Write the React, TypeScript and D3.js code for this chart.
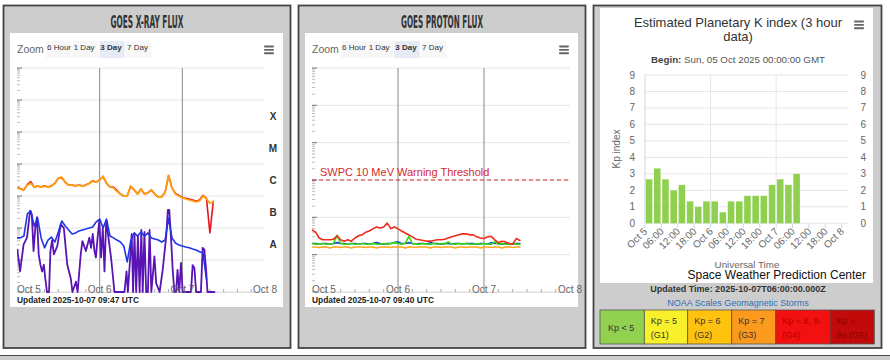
import * as d3 from 'd3';
import type { ReactNode } from 'react';

const SANS = '"Liberation Sans", Arial, Helvetica, sans-serif';
const NARROW = '"Liberation Sans Narrow", "DejaVu Sans Condensed", "Liberation Sans", sans-serif';

// GOES X-ray flux (W/m2), hourly from Oct 5 00:00 UTC
const xrayLongPrimary = [
  1.8e-6, 1.65e-6, 1.55e-6, 2.2e-6, 2.5e-6, 1.9e-6, 2.05e-6, 1.9e-6, 2.05e-6, 1.9e-6,
  2.05e-6, 2.5e-6, 3.65e-6, 3.9e-6, 2.7e-6, 2.2e-6, 2.2e-6, 2.05e-6, 2.2e-6, 2.05e-6,
  2.2e-6, 2.5e-6, 2.9e-6, 2.7e-6, 3.2e-6, 4.2e-6, 2.5e-6, 1.9e-6, 1.8e-6, 1.4e-6,
  1.15e-6, 1.0e-6, 1.0e-6, 2.05e-6, 1.55e-6, 1.15e-6, 1.65e-6, 1.15e-6, 1.25e-6, 1.55e-6,
  1.15e-6, 9.3e-7, 9.3e-7, 1.3e-6, 4.5e-6, 1.8e-6, 1.15e-6, 1.0e-6, 8.7e-7, 8.1e-7,
  7.5e-7, 7.0e-7, 6.5e-7, 7.0e-7, 1.0e-6, 8.1e-7, 6.0e-7, 6.5e-7,
];
const xrayLongSecondary = [
  1.8e-6, 1.7e-6, 1.55e-6, 2.3e-6, 2.8e-6, 1.9e-6, 2.05e-6, 1.9e-6, 2.1e-6, 1.9e-6,
  2.1e-6, 2.5e-6, 3.6e-6, 3.7e-6, 2.7e-6, 2.2e-6, 2.2e-6, 2.1e-6, 2.2e-6, 2.05e-6,
  2.2e-6, 2.5e-6, 3.0e-6, 2.7e-6, 3.2e-6, 4.0e-6, 2.5e-6, 1.9e-6, 1.9e-6, 1.5e-6,
  1.15e-6, 1.0e-6, 1.0e-6, 2.0e-6, 1.55e-6, 1.15e-6, 1.65e-6, 1.15e-6, 1.25e-6, 1.55e-6,
  1.15e-6, 9.3e-7, 9.5e-7, 1.3e-6, 4.3e-6, 1.8e-6, 1.2e-6, 1.05e-6, 9.0e-7, 8.5e-7,
  8.0e-7, 7.5e-7, 7.0e-7, 7.5e-7, 1.05e-6, 8.5e-7, 7.0e-8, 6.8e-7,
];
const xrayShortPrimary = [
  4.9e-8, 4.9e-8, 5.6e-8, 2.75e-7, 3.4e-7, 1.15e-7, 2.05e-7, 4.9e-8, 2.4e-8, 4.2e-8,
  5.2e-8, 3.65e-8, 7.5e-8, 1.65e-7, 1.15e-7, 8.7e-8, 6.5e-8, 7.0e-8, 8.1e-8, 8.7e-8,
  9.3e-8, 1.0e-7, 1.07e-7, 1.55e-7, 1.9e-7, 1.0e-7, 1.9e-7, 5.6e-8, 4.9e-8, 4.2e-8,
  3.65e-8, 2.75e-8, 8.7e-9, 3.9e-8, 7.0e-8, 5.6e-8, 7.5e-8, 5.6e-8, 7.0e-8, 4.9e-8,
  4.55e-8, 4.2e-8, 3.65e-8, 4.2e-8, 2.05e-7, 4.9e-8, 3.4e-8, 2.95e-8, 2.75e-8, 2.55e-8,
  2.4e-8, 2.2e-8, 2.05e-8, 1.8e-8, 1.65e-8, 2.5e-9,
];
// the secondary short channel is very spiky, so it is read at its turning points
const xrayShortSecondaryHours = [
  0.1, 0.9, 1.9, 2.9, 3.8, 4.3, 4.8, 5.3, 5.8, 6.3, 6.8, 7.3, 7.8, 8.2, 8.7, 9.3, 9.7, 10.2, 10.7, 11.7,
  12.7, 13.6, 14.6, 15.6, 16.1, 17.1, 17.6, 18.5, 19.0, 20.0, 21.0, 21.5, 22.0, 22.5, 22.9, 23.4, 23.9, 24.4, 24.9, 25.4,
  25.9, 26.4, 27.3, 28.3, 31.2, 31.8, 32.2, 33.3, 33.7, 34.1, 34.6, 35.1, 35.6, 36.1, 36.5, 37.0, 37.5, 38.0, 38.5, 39.0,
  39.9, 40.4, 41.4, 42.3, 43.3, 43.8, 44.2, 44.7, 45.2, 45.7, 46.2, 46.6, 47.1, 47.6, 48.1, 50.5, 51.0, 51.5, 52.0, 53.4,
  53.9, 54.4, 54.9, 55.3, 57.3,
];
const xrayShortSecondary = [
  2.1e-8, 4.4e-9, 3.0e-8, 5.0e-8, 3.5e-7, 2.6e-7, 1.9e-8, 1.0e-7, 2.2e-7, 1.5e-8, 7.1e-9, 4.4e-9, 7.1e-9, 2.7e-9, 1e-9, 1e-9, 1.9e-8, 4.2e-8, 1.5e-8, 2.7e-8,
  1.3e-7, 1.0e-7, 7.1e-9, 2.7e-9, 1e-9, 2.1e-9, 1e-9, 1.5e-8, 3.9e-8, 1.9e-8, 5.0e-8, 2.4e-8, 6.5e-8, 1.9e-8, 1.2e-8, 5.0e-8, 1.7e-7, 1.2e-8, 1.0e-7, 4.4e-9,
  1.7e-7, 6.5e-8, 1.2e-8, 1e-9, 1e-9, 4.4e-9, 1e-9, 6.5e-8, 1e-9, 6.9e-8, 1e-9, 5.6e-8, 1e-9, 8.7e-8, 1e-9, 7.5e-8, 1e-9, 1e-9, 8.7e-8, 1e-9,
  1.3e-8, 1.9e-9, 1e-9, 4.9e-9, 5.3e-8, 3.7e-7, 3.7e-7, 5.3e-8, 4.9e-9, 1e-9, 1e-9, 4.9e-9, 1e-9, 8.1e-9, 1e-9, 1e-9, 6.9e-9, 5.6e-9, 1e-9, 1e-9,
  2.4e-8, 2.1e-8, 4.9e-9, 1e-9, 1e-9,
];
const flareClasses = ['A', 'B', 'C', 'M', 'X'];
const flareClassExponents = [-8, -7, -6, -5, -4];

// GOES proton flux (pfu), hourly from Oct 5 00:00 UTC
const proton10MeV = [
  0.46, 0.40, 0.28, 0.25, 0.25, 0.25, 0.26, 0.32, 0.25, 0.23,
  0.25, 0.23, 0.28, 0.32, 0.34, 0.40, 0.43, 0.49, 0.55, 0.52,
  0.55, 0.70, 0.50, 0.55, 0.49, 0.43, 0.38, 0.34, 0.30, 0.26,
  0.25, 0.24, 0.23, 0.23, 0.24, 0.25, 0.25, 0.26, 0.28, 0.30,
  0.32, 0.34, 0.36, 0.36, 0.34, 0.34, 0.30, 0.28, 0.27, 0.30,
  0.31, 0.25, 0.21, 0.23, 0.22, 0.20, 0.19, 0.27, 0.24,
];
const proton50MeV = [
  0.20, 0.20, 0.19, 0.20, 0.20, 0.19, 0.20, 0.21, 0.20, 0.20,
  0.19, 0.20, 0.20, 0.19, 0.20, 0.20, 0.19, 0.20, 0.21, 0.20,
  0.19, 0.20, 0.20, 0.21, 0.22, 0.20, 0.20, 0.21, 0.20, 0.19,
  0.20, 0.20, 0.19, 0.21, 0.20, 0.20, 0.19, 0.20, 0.20, 0.19,
  0.20, 0.20, 0.19, 0.20, 0.20, 0.20, 0.19, 0.20, 0.20, 0.19,
  0.21, 0.20, 0.20, 0.19, 0.20, 0.20, 0.19, 0.20, 0.20,
];
const proton100MeV = [
  0.20, 0.19, 0.19, 0.20, 0.19, 0.19, 0.20, 0.33, 0.20, 0.19,
  0.19, 0.20, 0.19, 0.19, 0.20, 0.19, 0.19, 0.20, 0.19, 0.19,
  0.20, 0.19, 0.20, 0.21, 0.20, 0.19, 0.20, 0.31, 0.20, 0.19,
  0.19, 0.20, 0.19, 0.19, 0.20, 0.19, 0.20, 0.19, 0.22, 0.19,
  0.19, 0.20, 0.19, 0.20, 0.19, 0.19, 0.20, 0.19, 0.20, 0.19,
  0.19, 0.22, 0.19, 0.20, 0.19, 0.19, 0.20, 0.19, 0.19,
];
const proton500MeV = [
  0.16, 0.16, 0.155, 0.16, 0.16, 0.15, 0.16, 0.16, 0.155, 0.16,
  0.16, 0.15, 0.16, 0.16, 0.16, 0.155, 0.16, 0.16, 0.15, 0.16,
  0.16, 0.16, 0.155, 0.16, 0.16, 0.16, 0.15, 0.16, 0.16, 0.155,
  0.16, 0.16, 0.16, 0.15, 0.16, 0.16, 0.155, 0.16, 0.16, 0.16,
  0.15, 0.16, 0.16, 0.155, 0.16, 0.16, 0.16, 0.15, 0.16, 0.16,
  0.155, 0.16, 0.16, 0.15, 0.16, 0.16, 0.155, 0.16, 0.16,
];
const warningThreshold = 10;

const dayLabels = ['Oct 5', 'Oct 6', 'Oct 7', 'Oct 8'];
const zoomButtons = ['6 Hour', '1 Day', '3 Day', '7 Day'];

// Estimated planetary Kp, 3-hour bins from Oct 5 00:00 UTC
const kpValues = [2.67, 3.33, 2.67, 2, 2.33, 1.33, 1, 1.33, 1.33, 0.67, 1.33, 1.33, 1.67, 1.67, 1.67, 2.33, 2.67, 2.33, 3];
const kpTickLabels = ['Oct 5', '06:00', '12:00', '18:00', 'Oct 6', '06:00', '12:00', '18:00', 'Oct 7', '06:00', '12:00', '18:00', 'Oct 8'];
const stormScaleLabels = [['Kp < 5'], ['Kp = 5', '(G1)'], ['Kp = 6', '(G2)'], ['Kp = 7', '(G3)'], ['Kp = 8, 9-', '(G4)'], ['Kp =', '9o (G5)']];
const stormScaleColors = ['#92d050', '#f8f02a', '#ffc20e', '#fb9a1c', '#f21010', '#c20a0a'];
const stormScaleText = ['#333', '#333', '#333', '#333', '#b80000', '#8a0000'];

interface Line { values: number[]; hours?: number[]; color: string; width: number }

function Hamburger({ x, y }: { x: number; y: number }) {
  return (
    <g fill="#666">
      {[0, 1, 2].map(i => <rect key={i} x={x} y={y + i * 3.4} width={10} height={1.9} rx={0.8} />)}
    </g>
  );
}

function ZoomBar({ ox }: { ox: number }) {
  const starts = [46, 72.7, 99.3, 126];
  return (
    <g fontFamily={SANS}>
      <text x={ox + 17} y={52.5} fontSize={10.5} fill="#666">Zoom</text>
      {zoomButtons.map((b, i) => (
        <g key={b}>
          <rect x={ox + starts[i]} y={41} width={25.5} height={17} fill={i === 2 ? '#e6ebf5' : '#f7f7f7'} />
          <text x={ox + starts[i] + 1} y={50} fontSize={8} fontWeight={i === 2 ? 'bold' : 'normal'} fill="#333">{b}</text>
        </g>
      ))}
    </g>
  );
}

function GoesPanel({ ox, title, titleWidth, plotWidth, domain, lines, updated, clipId, extras }: {
  ox: number; title: string; titleWidth: number; plotWidth: number; domain: [number, number];
  lines: Line[]; updated: string; clipId: string;
  extras: (x: d3.ScaleLinear<number, number>, y: d3.ScaleLogarithmic<number, number>) => ReactNode;
}) {
  const left = ox + 17, top = 68, bottom = 292;
  const x = d3.scaleLinear().domain([0, 72]).range([left, left + plotWidth]);
  const y = d3.scaleLog().domain(domain).range([bottom, top]).clamp(true);
  const e0 = Math.round(Math.log10(domain[0]));
  const e1 = Math.round(Math.log10(domain[1]));
  const decades = d3.range(e0, e1 + 1);
  const minor = decades.slice(0, -1).flatMap(e => d3.range(2, 10).map(k => k * 10 ** e));
  const minorHours = d3.range(4, 72, 4).filter(h => h % 24 !== 0);
  const path = (l: Line) =>
    d3.line<number>().x((_, i) => x(l.hours ? l.hours[i] : i)).y(d => y(d))(l.values) ?? '';

  return (
    <g>
      <rect x={ox + 3.5} y={5.5} width={287} height={342.5} fill="#cdcdcd" stroke="#444" strokeWidth={1.8} />
      <text x={ox + 147} y={28} textAnchor="middle" fontFamily={NARROW} fontWeight="bold" fontSize={18}
        fill="#333" textLength={titleWidth} lengthAdjust="spacingAndGlyphs">{title}</text>
      <rect x={ox + 10} y={33} width={273} height={274} fill="#fff" />
      <ZoomBar ox={ox} />
      <Hamburger x={ox + 264} y={45.5} />

      {decades.map(e => (
        <line key={e} x1={left} x2={x(72)} y1={y(10 ** e)} y2={y(10 ** e)} stroke="#e6e6e6" />
      ))}
      {[24, 48].map(h => (
        <line key={h} x1={x(h)} x2={x(h)} y1={top} y2={bottom} stroke="#8a8a8a" />
      ))}
      {decades.map(e => (
        <line key={'M' + e} x1={left} x2={left + 5} y1={y(10 ** e)} y2={y(10 ** e)} stroke="#777" />
      ))}
      {minor.map(v => (
        <line key={v} x1={left} x2={left + 3} y1={y(v)} y2={y(v)} stroke="#aaa" strokeWidth={0.8} />
      ))}
      <line x1={left} x2={x(72)} y1={bottom + 0.5} y2={bottom + 0.5} stroke="#ddd" />
      {minorHours.map(h => (
        <line key={h} x1={x(h)} x2={x(h)} y1={bottom - 3} y2={bottom} stroke="#aaa" />
      ))}

      <clipPath id={clipId}>
        <rect x={left} y={top} width={plotWidth} height={bottom - top + 1} />
      </clipPath>
      <g clipPath={`url(#${clipId})`} fill="none" strokeLinejoin="round" strokeLinecap="round">
        {lines.map((l, i) => <path key={i} d={path(l)} stroke={l.color} strokeWidth={l.width} />)}
      </g>

      {extras(x, y)}

      {dayLabels.map((d, i) => (
        <text key={d} x={x(i * 24)} y={292.5} textAnchor={i === 0 ? 'start' : 'middle'}
          fontFamily={SANS} fontSize={10} fill="#666">{d}</text>
      ))}
      <text x={left} y={303} fontFamily={SANS} fontSize={8.4} fontWeight="bold" fill="#222">{updated}</text>
    </g>
  );
}

function KpPanel() {
  const x = d3.scaleLinear().domain([0, 72]).range([645, 841.7]);
  const y = d3.scaleLinear().domain([0, 9]).range([223.3, 75]);
  const plotRight = 848;
  const barW = (x(3) - x(0)) * 0.8;
  const cellEdges = [600, 644.3, 687.7, 731.7, 775.7, 830, 874.3];

  return (
    <g fontFamily={SANS}>
      <rect x={593.5} y={5.5} width={288} height={342.5} fill="#cdcdcd" stroke="#444" strokeWidth={1.8} />
      <rect x={600} y={8} width={273} height={275} fill="#fff" />
      <text x={738} y={27} textAnchor="middle" fontSize={13} fill="#333">Estimated Planetary K index (3 hour</text>
      <text x={738} y={41} textAnchor="middle" fontSize={13} fill="#333">data)</text>
      <Hamburger x={854} y={20.5} />
      <text x={738} y={62.5} textAnchor="middle" fontSize={9.75} fill="#555">
        <tspan fontWeight="bold" fill="#444">Begin:</tspan> Sun, 05 Oct 2025 00:00:00 GMT
      </text>

      {y.ticks(9).map(t => (
        <g key={t}>
          <line x1={645} x2={plotRight} y1={y(t)} y2={y(t)} stroke="#e6e6e6" />
          <text x={635} y={y(t) + 3.5} textAnchor="end" fontSize={10} fill="#666">{t}</text>
          <text x={860.5} y={y(t) + 3.5} fontSize={10} fill="#666">{t}</text>
        </g>
      ))}
      {[24, 48].map(h => (
        <line key={h} x1={x(h)} x2={x(h)} y1={y(9)} y2={y(0)} stroke="#e6e6e6" />
      ))}
      <line x1={645} x2={645} y1={y(9)} y2={y(0)} stroke="#ccd6eb" />

      {kpValues.map((v, i) => (
        <rect key={i} x={x(i * 3 + 1.5) - barW / 2} y={y(v)} width={barW} height={y(0) - y(v)} fill="#8fd04f" />
      ))}

      {kpTickLabels.map((l, i) => (
        <g key={i}>
          <line x1={x(i * 6)} x2={x(i * 6)} y1={y(0)} y2={y(0) + 5} stroke="#ccd6eb" />
          <text transform={`translate(${x(i * 6) + 3},${232}) rotate(-45)`} textAnchor="end" fontSize={10} fill="#666">{l}</text>
        </g>
      ))}

      <text transform="translate(620,149) rotate(-90)" textAnchor="middle" fontSize={10} fill="#666">Kp index</text>
      <text x={747} y={267.5} textAnchor="middle" fontSize={9.8} fill="#666">Universal Time</text>
      <text x={866} y={279} textAnchor="end" fontSize={12} fill="#111">Space Weather Prediction Center</text>

      <text x={738} y={292} textAnchor="middle" fontSize={9} fontWeight="bold" fill="#333">Updated Time: 2025-10-07T06:00:00.000Z</text>
      <text x={738} y={306} textAnchor="middle" fontSize={9} fill="#2f6fb5">NOAA Scales Geomagnetic Storms</text>

      {stormScaleLabels.map((lines, i) => (
        <g key={i}>
          <rect x={cellEdges[i]} y={310} width={cellEdges[i + 1] - cellEdges[i]} height={34}
            fill={stormScaleColors[i]} stroke="#555" strokeWidth={0.8} />
          {lines.map((t, j) => (
            <text key={j} x={cellEdges[i] + (lines.length === 1 ? 8 : 6.5)}
              y={lines.length === 1 ? 330.5 : 324 + j * 13.5} fontSize={9} fill={stormScaleText[i]}>{t}</text>
          ))}
        </g>
      ))}
    </g>
  );
}

export default function App() {
  return (
    <svg width={890} height={360} style={{ position: 'absolute', left: 0, top: 0, background: '#fff' }}>
      <GoesPanel
        ox={0} title="GOES X-RAY FLUX" titleWidth={73} plotWidth={248} domain={[1e-9, 1e-2]} clipId="xclip"
        updated="Updated 2025-10-07 09:47 UTC"
        lines={[
          { values: xrayShortSecondary, hours: xrayShortSecondaryHours, color: '#5a14b4', width: 1.8 },
          { values: xrayShortPrimary, color: '#1f35e6', width: 1.6 },
          { values: xrayLongSecondary, color: '#e8141c', width: 1.6 },
          { values: xrayLongPrimary, color: '#ffa010', width: 1.8 },
        ]}
        extras={(x, y) => flareClasses.map((c, i) => (
          <text key={c} x={273} y={y(10 ** (flareClassExponents[i] + 0.5)) + 3.5} textAnchor="middle"
            fontFamily={SANS} fontSize={10} fontWeight="bold" fill="#333">{c}</text>
        ))}
      />
      <GoesPanel
        ox={295} title="GOES PROTON FLUX" titleWidth={82} plotWidth={258} domain={[1e-2, 1e4]} clipId="pclip"
        updated="Updated 2025-10-07 09:40 UTC"
        lines={[
          { values: proton500MeV, color: '#ffa31a', width: 1.6 },
          { values: proton50MeV, color: '#2040c8', width: 1.6 },
          { values: proton100MeV, color: '#33dd11', width: 1.6 },
          { values: proton10MeV, color: '#f02a18', width: 1.6 },
        ]}
        extras={(x, y) => (
          <g>
            <line x1={x(0)} x2={x(72)} y1={y(warningThreshold)} y2={y(warningThreshold)}
              stroke="#d42a2a" strokeWidth={1} strokeDasharray="4,3" />
            <text x={x(0) + 8} y={y(warningThreshold) - 4} fontFamily={SANS} fontSize={11} fill="#d42a2a">
              SWPC 10 MeV Warning Threshold
            </text>
          </g>
        )}
      />
      <KpPanel />
      <rect x={-1} y={355.5} width={892} height={10} fill="#cdcdcd" stroke="#4a4a4a" strokeWidth={1} />
    </svg>
  );
}
